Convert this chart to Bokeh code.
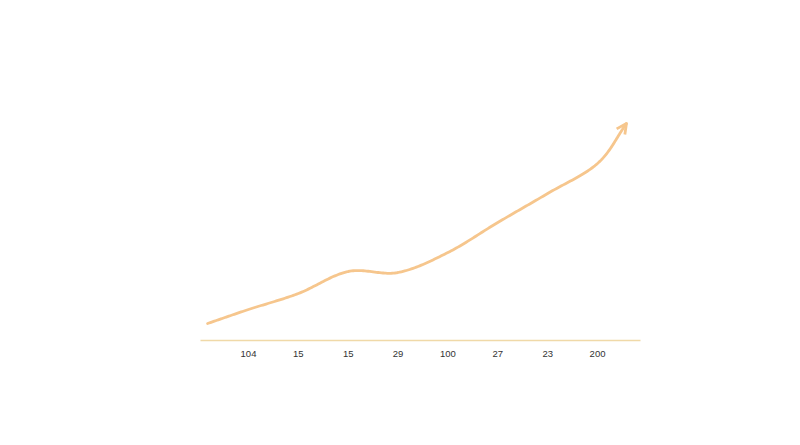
import numpy as np
from bokeh.plotting import figure
from bokeh.models import Arrow, OpenHead, Range1d
from bokeh.embed import file_html
from bokeh.resources import INLINE

# Category tick labels
labels = ["104", "15", "15", "29", "100", "27", "23", "200"]
# Line values (height above the axis) at positions: start, each category, end
line_x = [-0.82, 0, 1, 2, 3, 4, 5, 6, 7, 7.58]
line_y = [17, 31, 47, 69, 68, 88, 118, 147, 177, 217]

LINE_COLOR = "#F6C68D"
AXIS_COLOR = "#F0D9A8"

p = figure(width=784, height=429, output_backend="svg", toolbar_location=None,
           x_range=Range1d(-0.963, 7.862), y_range=Range1d(0, 240),
           y_axis_location=None,
           min_border_left=200, min_border_right=144,
           min_border_top=100, min_border_bottom=89)
p.outline_line_color = None
p.grid.visible = False
p.background_fill_color = "white"
p.border_fill_color = "white"

# Catmull-Rom smoothing for display of the line
def catmull(xs, ys, n=30):
    xs = np.asarray(xs, float); ys = np.asarray(ys, float)
    P = np.column_stack([xs, ys])
    P = np.vstack([2 * P[0] - P[1], P, 2 * P[-1] - P[-2]])
    out = []
    for i in range(1, len(P) - 2):
        p0, p1, p2, p3 = P[i - 1], P[i], P[i + 1], P[i + 2]
        for t in np.linspace(0, 1, n, endpoint=False):
            t2, t3 = t * t, t * t * t
            pt = 0.5 * ((2 * p1) + (-p0 + p2) * t + (2 * p0 - 5 * p1 + 4 * p2 - p3) * t2
                        + (-p0 + 3 * p1 - 3 * p2 + p3) * t3)
            out.append(pt)
    out.append(P[-2])
    out = np.array(out)
    return out[:, 0], out[:, 1]

sx, sy = catmull(line_x, line_y)
p.line(sx, sy, line_color=LINE_COLOR, line_width=2.8, line_cap="round", line_join="round")
p.add_layout(Arrow(end=OpenHead(size=10, line_color=LINE_COLOR, line_width=2.8),
                   x_start=sx[-4], y_start=sy[-4], x_end=sx[-1], y_end=sy[-1],
                   line_color=LINE_COLOR, line_width=2.8, line_alpha=0))

p.xaxis.ticker = list(range(len(labels)))
p.xaxis.major_label_overrides = {i: l for i, l in enumerate(labels)}
p.xaxis.axis_line_color = AXIS_COLOR
p.xaxis.axis_line_width = 1.5
p.xaxis.major_tick_line_color = None
p.xaxis.minor_tick_line_color = None
p.xaxis.major_label_text_font = "Liberation Sans"
p.xaxis.major_label_text_font_size = "9.5px"
p.xaxis.major_label_text_color = "#333333"
p.xaxis.major_label_standoff = 4

open("out.html", "w").write(file_html(p, INLINE))
